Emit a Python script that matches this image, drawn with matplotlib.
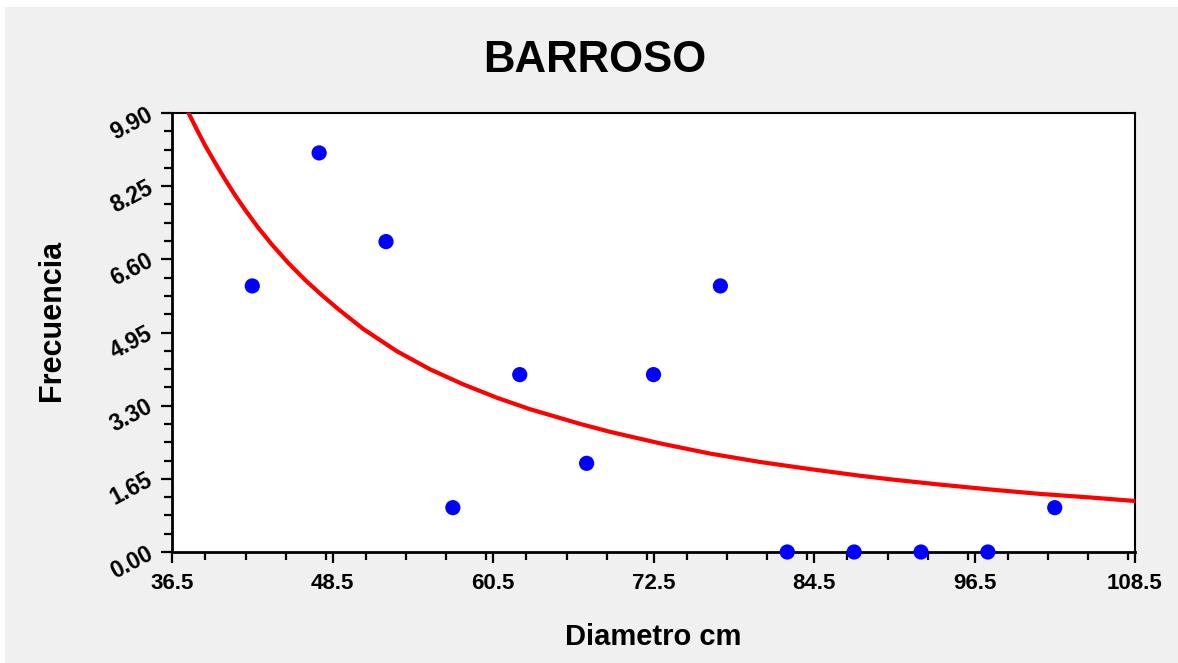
import matplotlib
matplotlib.use("Agg")
import matplotlib.pyplot as plt
from matplotlib.patches import Rectangle
from matplotlib.ticker import MultipleLocator, FixedLocator

plt.rcParams['font.family'] = ['Liberation Sans', 'DejaVu Sans']

title = "BARROSO"
xlabel = "Diametro cm"
ylabel = "Frecuencia"

# observed points
diam = [42.5, 47.5, 52.5, 57.5, 62.5, 67.5, 72.5, 77.5, 82.5, 87.5, 92.5, 97.5, 102.5]
freq = [6, 9, 7, 1, 4, 2, 4, 6, 0, 0, 0, 0, 1]

# fitted curve
curve_x = [37.62, 38.37, 38.99, 39.74, 40.49, 41.23, 41.98, 42.98, 43.98, 45.22,
           46.47, 47.71, 48.96, 50.80, 53.30, 55.79, 58.28, 60.78, 63.27, 67.00,
           69.25, 72.99, 76.72, 80.46, 84.20, 87.94, 90.18, 93.92, 97.66, 101.40,
           105.14, 108.5]
curve_y = [9.97, 9.52, 9.16, 8.77, 8.39, 8.04, 7.71, 7.30, 6.93, 6.51,
           6.13, 5.79, 5.47, 5.03, 4.53, 4.12, 3.78, 3.48, 3.22, 2.89,
           2.71, 2.45, 2.22, 2.03, 1.87, 1.72, 1.64, 1.52, 1.41, 1.31,
           1.23, 1.15]

xticks = [36.5, 48.5, 60.5, 72.5, 84.5, 96.5, 108.5]
yticks = [0.00, 1.65, 3.30, 4.95, 6.60, 8.25, 9.90]

W, H = 1178, 663
fig = plt.figure(figsize=(W / 100, H / 100), dpi=100)
fig.patch.set_facecolor('white')
fig.patches.append(Rectangle((5 / W, 0), 1, 1 - 7 / H, transform=fig.transFigure,
                             facecolor='#f0f0f0', edgecolor='none', zorder=-10))

ax = fig.add_axes([172 / W, (H - 552) / H, (1135 - 172) / W, (552 - 113) / H])
ax.set_facecolor('white')

ax.plot(curve_x, curve_y, color='#ff0000', lw=3.0, solid_joinstyle='round', zorder=3)
ax.scatter(diam, freq, s=120, color='#0000ff', zorder=4, clip_on=False, edgecolors='none')

ax.set_xlim(36.5, 108.5)
ax.set_ylim(0, 9.9)
ax.xaxis.set_major_locator(FixedLocator(xticks))
ax.xaxis.set_minor_locator(MultipleLocator(3))
ax.yaxis.set_major_locator(FixedLocator(yticks))
ax.yaxis.set_minor_locator(MultipleLocator(0.4125))

ax.set_xticklabels([f"{v:.1f}" for v in xticks], fontsize=16, fontweight='bold')
ax.set_yticklabels([f"{v:.2f}" for v in yticks], fontsize=16.5, fontweight='bold',
                   rotation=28, ha='right', va='center', rotation_mode='anchor')

ax.tick_params(axis='both', which='major', direction='out', length=8, width=1.6, color='black')
ax.tick_params(axis='both', which='minor', direction='out', length=6, width=1.6, color='black')
ax.tick_params(axis='x', which='major', pad=7)
ax.tick_params(axis='y', which='major', pad=7)
ax.tick_params(top=False, right=False, which='both')

for side in ['left', 'bottom']:
    ax.spines[side].set_linewidth(2.0)
for side in ['top', 'right']:
    ax.spines[side].set_linewidth(1.5)

fig.text(595 / W, 1 - 60 / H, title, ha='center', va='center', fontsize=31.5, fontweight='bold')
fig.text(653 / W, 1 - 637 / H, xlabel, ha='center', va='center', fontsize=21, fontweight='bold')
fig.text(52 / W, 1 - 320 / H, ylabel, ha='center', va='center', fontsize=22, fontweight='bold',
         rotation=90)

fig.savefig("out.png", dpi=100)
